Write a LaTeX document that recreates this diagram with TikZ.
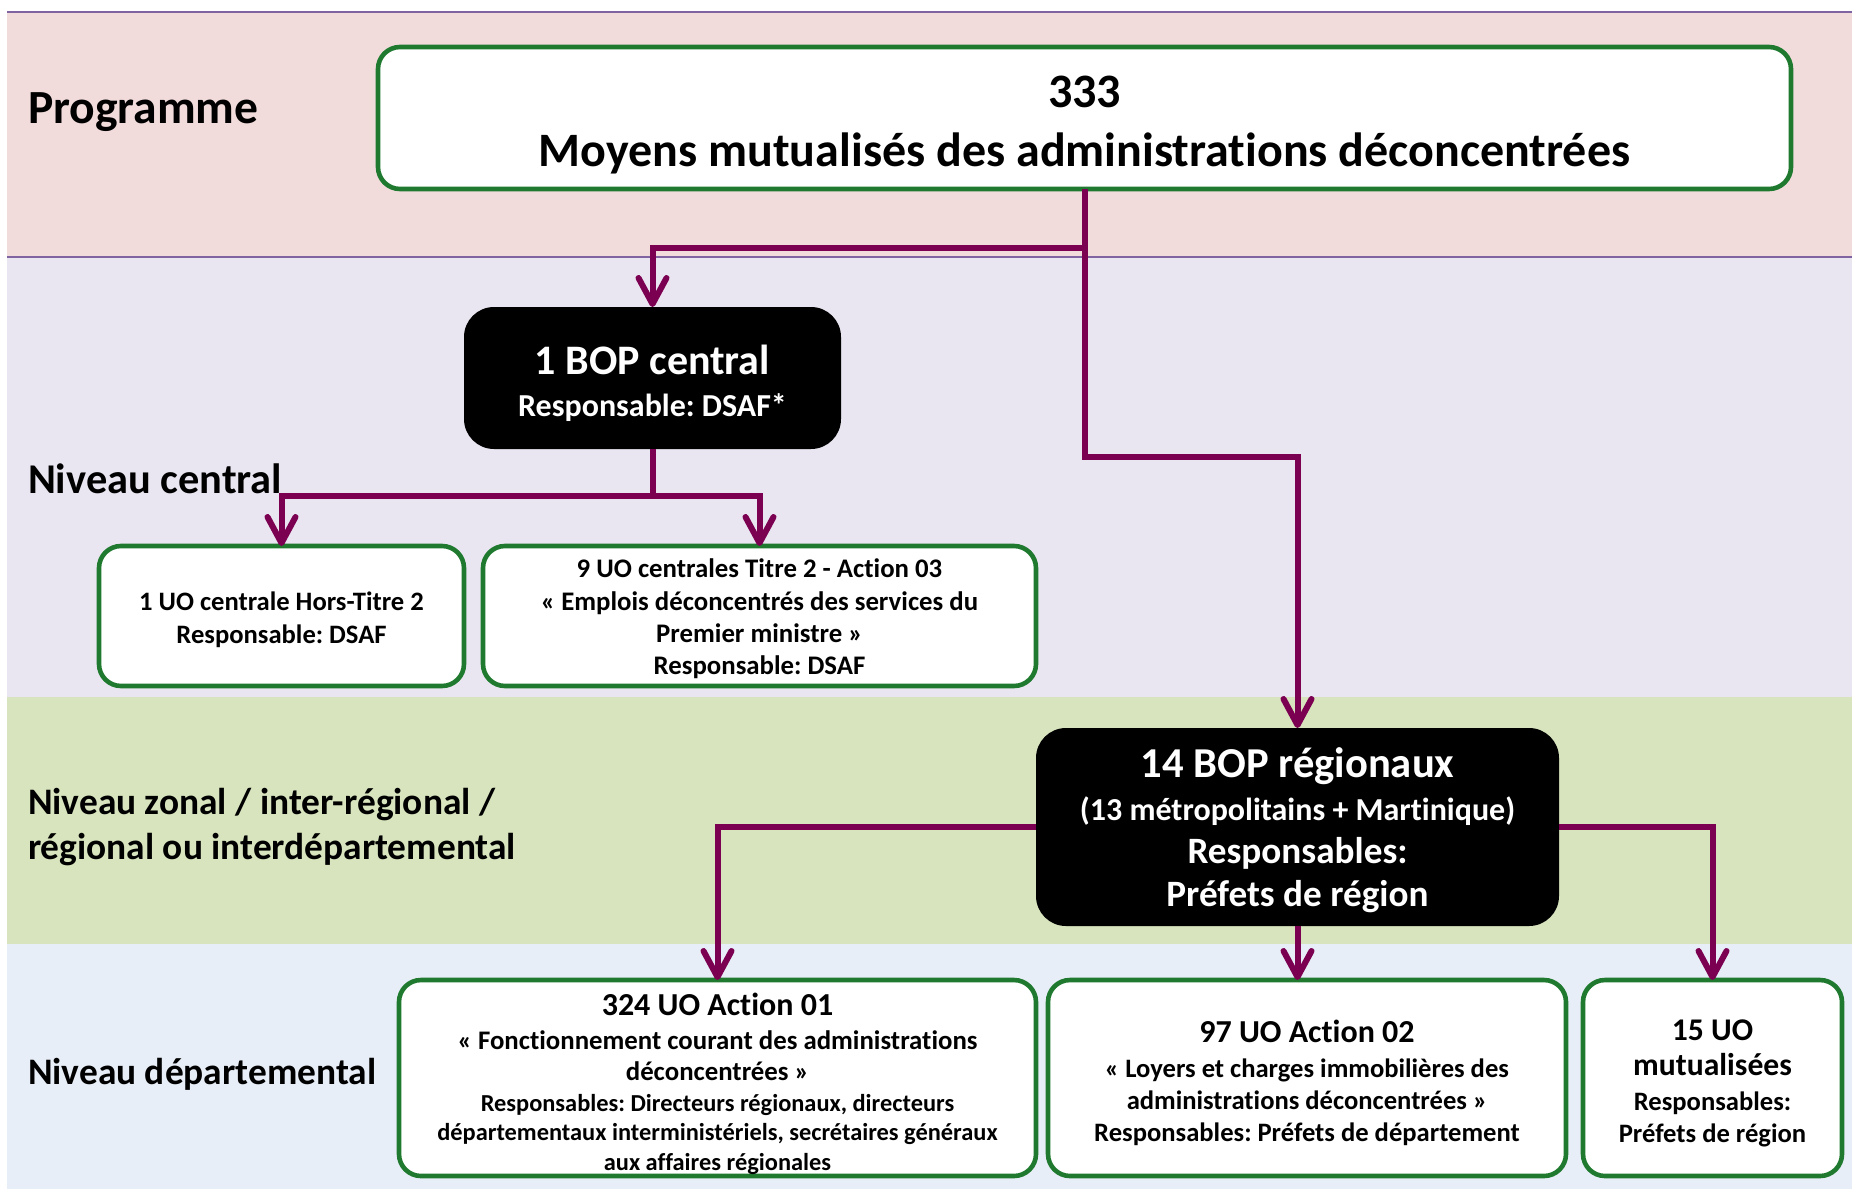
\documentclass[tikz,border=0pt]{standalone}
\usepackage{fontspec}
\setmainfont{Carlito}[Ligatures={NoCommon,NoContextual}]
\usetikzlibrary{arrows.meta}
\definecolor{pinkband}{HTML}{F2DCDB}
\definecolor{lavband}{HTML}{EAE6F1}
\definecolor{greenband}{HTML}{D7E4BD}
\definecolor{blueband}{HTML}{E8EEF7}
\definecolor{bandline}{HTML}{8064A2}
\definecolor{conncol}{HTML}{7B0052}
\definecolor{boxgreen}{HTML}{1F7A30}
\newcommand{\myfs}[2]{\fontsize{#1pt}{#2pt}\selectfont}
\frenchspacing
\begin{document}
\begin{tikzpicture}[x=0.5pt,y=-0.5pt,
  every node/.style={inner sep=0pt, outer sep=0pt},
  gbox/.style={draw=boxgreen, line width=2.3pt, fill=white, rounded corners=11pt},
  bbox/.style={fill=black, rounded corners=15pt},
  gtxt/.style={align=center, text=black},
  btxt/.style={align=center, text=white},
  conn/.style={draw=conncol, line width=3pt, -{Straight Barb[length=13pt,width=14pt,round]}},
  plain/.style={draw=conncol, line width=3pt},
  lvl/.style={anchor=base west, text=black}]

\useasboundingbox (0,0) rectangle (1852,1189);

% bands
\fill[pinkband] (7,12) rectangle (1852,257);
\fill[lavband] (7,257) rectangle (1852,697);
\fill[greenband] (7,697) rectangle (1852,944);
\fill[blueband] (7,944) rectangle (1852,1189);
\draw[bandline, line width=1.3pt] (7,12) -- (1852,12);
\draw[bandline, line width=1.3pt] (7,257) -- (1852,257);

% level labels
\node[lvl, font=\bfseries\myfs{23.8}{28}] (lprog) at (28,123) {Programme};
\node[lvl, font=\bfseries\myfs{21.2}{24}] (lcent) at (28,493) {Niveau central};
\node[lvl, font=\bfseries\myfs{18.7}{22}] (lzone1) at (28,814) {Niveau zonal / inter-régional /};
\node[lvl, font=\bfseries\myfs{18.7}{22}] (lzone2) at (28,859) {régional ou interdépartemental};
\node[lvl, font=\bfseries\myfs{18.7}{22}] (ldep) at (28,1084) {Niveau départemental};

% boxes
\node[gbox, minimum width=706.5pt, minimum height=71pt] (top) at (1084.5,118) {};
\node[gtxt, font=\bfseries\myfs{24}{29.5}] (topt) at ([yshift=-3.5pt]top.center)
  {333\\Moyens mutualisés des administrations déconcentrées};

\node[bbox, minimum width=188.5pt, minimum height=71pt] (bopc) at (652.5,378) {};
\node[btxt, font=\bfseries\myfs{16}{21}] (bopct) at ([yshift=-2.5pt]bopc.center)
  {{\myfs{21}{21}1 BOP central}\\Responsable: DSAF*};

\node[gbox, minimum width=182.5pt, minimum height=70pt] (uoht) at (281.5,616) {};
\node[gtxt, font=\bfseries\myfs{13.3}{16.5}] (uohtt) at ([yshift=-1.75pt]uoht.center)
  {1 UO centrale Hors-Titre 2\\Responsable: DSAF};

\node[gbox, minimum width=276.5pt, minimum height=70pt] (uo9) at (759.5,616) {};
\node[gtxt, font=\bfseries\myfs{13.4}{16.2}] (uo9t) at ([yshift=-1.5pt]uo9.center)
  {9 UO centrales Titre 2 - Action 03\\« Emplois déconcentrés des services du\\Premier ministre »\\Responsable: DSAF};

\node[bbox, minimum width=261.5pt, minimum height=99pt] (bopr) at (1297.5,827) {};
\node[btxt, font=\bfseries\myfs{18.6}{21.5}] (boprt) at ([yshift=-1.75pt]bopr.center)
  {{\myfs{21.3}{21.5}14 BOP régionaux}\\{\myfs{16}{21.5}(13 métropolitains + Martinique)}\\Responsables:\\Préfets de région};

\node[gbox, minimum width=318.5pt, minimum height=98pt] (uo324) at (717.5,1078) {};
\node[gtxt, font=\bfseries\myfs{13.4}{15.5}] (uo324t) at ([yshift=-2.75pt]uo324.center)
  {{\myfs{16}{16}324 UO Action 01}\\[1.5pt]« Fonctionnement courant des administrations\\déconcentrées »\\{\myfs{12.2}{15}Responsables: Directeurs régionaux, directeurs}\\[-0.8pt]{\myfs{12.2}{15}départementaux interministériels, secrétaires généraux}\\[-0.8pt]{\myfs{12.2}{15}aux affaires régionales}};

\node[gbox, minimum width=259pt, minimum height=98pt] (uo97) at (1307,1078) {};
\node[gtxt, font=\bfseries\myfs{13.3}{16}] (uo97t) at ([yshift=-2.25pt]uo97.center)
  {{\myfs{16}{16}97 UO Action 02}\\[1.5pt]« Loyers et charges immobilières des\\administrations déconcentrées »\\{\myfs{13.3}{16}Responsables: Préfets de département}};

\node[gbox, minimum width=129.5pt, minimum height=98pt] (uo15) at (1712.5,1078) {};
\node[gtxt, font=\bfseries\myfs{13.3}{16}] (uo15t) at ([yshift=-2.75pt]uo15.center)
  {{\myfs{15.8}{16}15 UO}\\[1.5pt]{\myfs{15.8}{16}mutualisées}\\[1.5pt]Responsables:\\Préfets de région};

% connectors
\coordinate (k1) at (1084.5,457);
\coordinate (k2) at (1297.5,457);
\coordinate (k3) at (1084.5,248);
\coordinate (k4) at (652.5,496);
\draw[conn] (top.south) -- (k1) -- (k2) -- (bopr.north);
\draw[conn] (k3) -- (k3 -| bopc.north) -- (bopc.north);
\draw[plain] (bopc.south) -- (k4);
\draw[conn] (k4) -- (k4 -| uoht.north) -- (uoht.north);
\draw[conn] (k4) -- (k4 -| uo9.north) -- (uo9.north);
\draw[conn] (bopr.west) -- (bopr.west -| uo324.north) -- (uo324.north);
\draw[conn] (bopr.south) -- (bopr.south |- uo97.north);
\draw[conn] (bopr.east) -- (bopr.east -| uo15.north) -- (uo15.north);
\end{tikzpicture}
\end{document}
